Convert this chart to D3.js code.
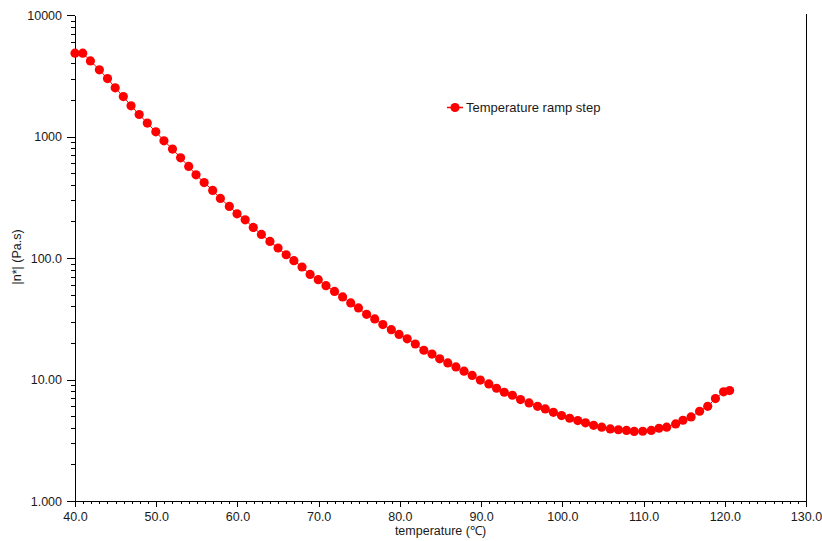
<!DOCTYPE html>
<html>
<head>
<meta charset="utf-8">
<script src="https://cdn.jsdelivr.net/npm/d3@7"></script>
<style>
  body { margin: 0; background: #fff; }
  svg { display: block; font-family: "Liberation Sans", Arial, sans-serif; }
  .axis path, .axis line { stroke: #000; shape-rendering: crispEdges; }
  .axis text { fill: #1a1a1a; font-size: 12.5px; }
</style>
</head>
<body>
<script>
// temperature (°C) of each measured point
let temps = [
  40.0, 40.95, 41.9, 43.0, 44.0, 44.95, 45.95, 46.9, 47.9, 48.9,
  49.95, 50.95, 52.0, 53.0, 54.0, 54.9, 55.9, 56.95, 57.9, 59.0,
  59.95, 60.95, 61.95, 62.95, 64.0, 65.0, 66.0, 66.95, 67.95, 68.95,
  69.95, 70.9, 71.95, 72.95, 73.95, 74.9, 75.9, 76.9, 77.9, 78.95,
  79.9, 80.9, 81.9, 82.95, 83.95, 84.9, 85.9, 86.9, 87.9, 88.9,
  89.9, 90.95, 91.9, 92.85, 93.85, 94.85, 95.9, 96.95, 97.9, 98.9,
  99.9, 100.9, 101.9, 102.85, 103.85, 104.85, 105.9, 106.9, 107.9, 108.85,
  109.9, 110.95, 111.9, 112.85, 113.95, 114.85, 115.85, 116.9, 117.9, 118.85,
  119.85, 120.6
];

// complex viscosity |n*| (Pa.s)
let viscosity = [
  4850, 4850, 4190, 3535, 3000, 2515, 2133, 1788, 1517, 1289,
  1093, 922, 788, 668, 567, 484, 418, 360, 309, 266,
  231, 206, 178.5, 156.4, 136.9, 120.9, 106.4, 95.0, 84.3, 73.3,
  66.3, 59.2, 53.1, 47.8, 42.7, 38.8, 34.4, 31.5, 28.3, 25.7,
  23.5, 21.6, 19.6, 17.4, 16.2, 14.8, 13.7, 12.7, 11.7, 10.8,
  9.89, 9.20, 8.47, 7.85, 7.42, 6.83, 6.42, 6.02, 5.73, 5.37,
  5.05, 4.80, 4.59, 4.40, 4.20, 4.05, 3.92, 3.86, 3.81, 3.74,
  3.75, 3.81, 3.97, 4.05, 4.31, 4.62, 4.92, 5.48, 6.02, 6.97,
  7.91, 8.10
];

let xTicks = [40, 50, 60, 70, 80, 90, 100, 110, 120, 130];
let xTickLabels = ["40.0", "50.0", "60.0", "70.0", "80.0", "90.0", "100.0", "110.0", "120.0", "130.0"];
let yTicks = [1, 10, 100, 1000, 10000];
let yTickLabels = ["1.000", "10.00", "100.0", "1000", "10000"];
let seriesName = "Temperature ramp step";

let margin = { top: 15, right: 16, bottom: 40, left: 75 },
  width = 822 - margin.left - margin.right,
  height = 541 - margin.top - margin.bottom;

let svg = d3
  .select("body")
  .append("svg")
  .attr("width", 822)
  .attr("height", 541)
  .append("g")
  .attr("transform", "translate(" + margin.left + "," + margin.top + ")");

let x = d3.scaleLinear().domain([40, 130]).range([0, width]);
let y = d3.scaleLog().domain([1, 10000]).range([height, 0]);

// minor ticks
let xMinor = d3.range(40, 131, 1).filter((d) => d % 10 != 0);
let yMinor = [];
yTicks.slice(0, -1).forEach((d) => {
  for (let k = 2; k < 10; k++) yMinor.push(d * k);
});

svg
  .append("g")
  .attr("class", "axis")
  .attr("transform", "translate(0," + height + ")")
  .call(d3.axisBottom(x).tickValues(xMinor).tickSize(3).tickFormat("").tickSizeOuter(0));

svg
  .append("g")
  .attr("class", "axis")
  .attr("transform", "translate(0," + height + ")")
  .call(
    d3.axisBottom(x)
      .tickValues(xTicks)
      .tickSize(6)
      .tickSizeOuter(0)
      .tickPadding(5)
      .tickFormat((d, i) => xTickLabels[i])
  );

svg
  .append("g")
  .attr("class", "axis")
  .call(d3.axisLeft(y).tickValues(yMinor).tickSize(4).tickFormat("").tickSizeOuter(0));

svg
  .append("g")
  .attr("class", "axis")
  .call(
    d3.axisLeft(y)
      .tickValues(yTicks)
      .tickSize(8)
      .tickSizeOuter(0)
      .tickPadding(5)
      .tickFormat((d, i) => yTickLabels[i])
  );

// right border
svg
  .append("line")
  .attr("x1", width + 0.5)
  .attr("x2", width + 0.5)
  .attr("y1", -1)
  .attr("y2", height)
  .attr("stroke", "#000")
  .attr("shape-rendering", "crispEdges");

// axis titles
svg
  .append("text")
  .attr("x", x(85))
  .attr("y", height + 34)
  .attr("text-anchor", "middle")
  .attr("fill", "#1a1a1a")
  .style("font-size", "12.5px")
  .text("temperature (℃)");

svg
  .append("text")
  .attr("transform", "translate(" + (21 - margin.left) + "," + (257 - margin.top) + ") rotate(-90)")
  .attr("text-anchor", "middle")
  .attr("fill", "#1a1a1a")
  .style("font-size", "12.5px")
  .text("|n*| (Pa.s)");

// series
let points = temps.map((t, i) => [t, viscosity[i]]);

svg
  .append("path")
  .datum(points)
  .attr("fill", "none")
  .attr("stroke", "#ff0000")
  .attr("stroke-width", 1)
  .attr("d", d3.line().x((d) => x(d[0])).y((d) => y(d[1])));

svg
  .append("g")
  .selectAll("circle")
  .data(points)
  .enter()
  .append("circle")
  .attr("cx", (d) => x(d[0]))
  .attr("cy", (d) => y(d[1]))
  .attr("r", 4.6)
  .attr("fill", "#ff0000");

// legend
let legend = svg.append("g").attr("transform", "translate(" + (455 - margin.left) + "," + (107.5 - margin.top) + ")");
legend
  .append("line")
  .attr("x1", -8)
  .attr("x2", 8)
  .attr("stroke", "#ff0000")
  .attr("stroke-width", 1.5);
legend.append("circle").attr("r", 4.6).attr("fill", "#ff0000");
legend
  .append("text")
  .attr("x", 11)
  .attr("dy", "0.35em")
  .attr("fill", "#1a1a1a")
  .style("font-size", "13px")
  .text(seriesName);
</script>
</body>
</html>
